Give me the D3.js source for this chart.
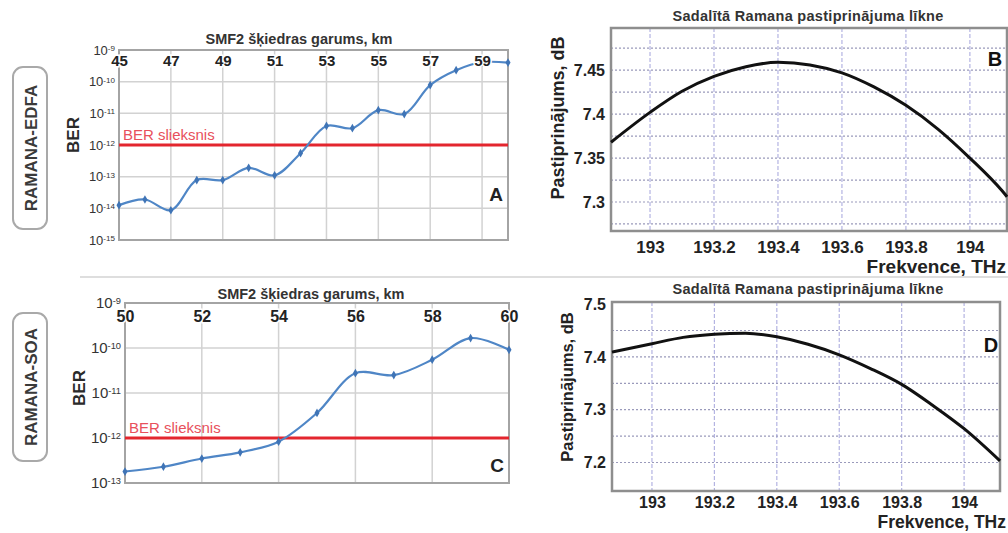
<!DOCTYPE html>
<html>
<head>
<meta charset="utf-8">
<script src="https://cdn.jsdelivr.net/npm/d3@7"></script>
<style>
  body { margin: 0; background: #fff; }
  svg { display: block; font-family: "Liberation Sans", Arial, sans-serif; }
</style>
</head>
<body>
<div id="chart"></div>
<script>
// --- data ---
const kmEdfa = [45, 46, 47, 48, 49, 50, 51, 52, 53, 54, 55, 56, 57, 58, 59, 60];
const berEdfa = [1.26e-14, 1.9e-14, 8.7e-15, 7.8e-14, 7.8e-14, 1.9e-13, 1.1e-13, 5.5e-13,
                 4.0e-12, 3.4e-12, 1.26e-11, 9.5e-12, 7.8e-11, 2.3e-10, 4.1e-10, 4.0e-10];
const kmSoa = [50, 51, 52, 53, 54, 55, 56, 57, 58, 59, 60];
const berSoa = [1.8e-13, 2.3e-13, 3.5e-13, 4.8e-13, 8.3e-13, 3.6e-12, 2.75e-11, 2.5e-11,
                5.5e-11, 1.66e-10, 9.1e-11];
const berThreshold = 1e-12;

const kmTicksEdfa = [45, 47, 49, 51, 53, 55, 57, 59];
const kmTicksSoa = [50, 52, 54, 56, 58, 60];
const berTicksEdfa = [1e-15, 1e-14, 1e-13, 1e-12, 1e-11, 1e-10, 1e-9];
const berTicksSoa = [1e-13, 1e-12, 1e-11, 1e-10, 1e-9];

const freqEdfa = [192.878, 193, 193.1, 193.2, 193.3, 193.4, 193.5, 193.6, 193.7, 193.8, 193.9, 194, 194.1, 194.116];
const gainEdfa = [7.368, 7.402, 7.426, 7.443, 7.454, 7.459, 7.456, 7.447, 7.431, 7.410, 7.383, 7.350, 7.313, 7.306];
const freqSoa = [192.872, 193, 193.1, 193.2, 193.3, 193.4, 193.5, 193.6, 193.7, 193.8, 193.9, 194, 194.115];
const gainSoa = [7.409, 7.425, 7.437, 7.443, 7.445, 7.438, 7.424, 7.404, 7.378, 7.348, 7.308, 7.264, 7.203];

const freqTicks = [193, 193.2, 193.4, 193.6, 193.8, 194];
const gainTicksB = [7.3, 7.35, 7.4, 7.45];
const gainGridB = [7.275, 7.3, 7.325, 7.35, 7.375, 7.4, 7.425, 7.45, 7.475];
const gainTicksD = [7.2, 7.3, 7.4, 7.5];
const gainGridD = [7.2, 7.25, 7.3, 7.35, 7.4, 7.45];

const width = 1008, height = 533;

const svg = d3.select("#chart").append("svg")
    .attr("width", width)
    .attr("height", height);

svg.append("rect").attr("width", width).attr("height", height).attr("fill", "#fff");

// separator between the two rows
svg.append("line")
    .attr("x1", 80).attr("x2", width)
    .attr("y1", 277).attr("y2", 277)
    .attr("stroke", "#dedede").attr("stroke-width", 2);

// side labels
const sideLabel = (text, cy, h) => {
    const g = svg.append("g");
    g.append("rect")
        .attr("x", 13).attr("y", cy - h / 2)
        .attr("width", 34).attr("height", h)
        .attr("rx", 10)
        .attr("fill", "#fff").attr("stroke", "#a9a9a9").attr("stroke-width", 2);
    g.append("text")
        .attr("transform", `translate(37,${cy}) rotate(-90)`)
        .attr("text-anchor", "middle")
        .attr("font-size", 17).attr("font-weight", "bold")
        .attr("fill", "#3a3a3a")
        .text(text);
};
sideLabel("RAMANA-EDFA", 148, 162);
sideLabel("RAMANA-SOA", 387, 148);

// BER vs fibre length panel
const drawBer = o => {
    const x = d3.scaleLinear().domain(o.kmDomain).range([o.left, o.right]);
    const y = d3.scaleLog().domain(o.berDomain).range([o.bottom, o.top]);
    const g = svg.append("g");

    // grid
    g.append("g").selectAll("line")
        .data(o.kmTicks.filter(d => d > o.kmDomain[0]))
        .join("line")
        .attr("x1", d => x(d)).attr("x2", d => x(d))
        .attr("y1", o.top).attr("y2", o.bottom)
        .attr("stroke", "#d2d2d2").attr("stroke-width", 1.5);
    g.append("g").selectAll("line")
        .data(o.berTicks.slice(1, -1))
        .join("line")
        .attr("x1", o.left).attr("x2", o.right)
        .attr("y1", d => y(d)).attr("y2", d => y(d))
        .attr("stroke", "#d2d2d2").attr("stroke-width", 1.5);

    // frame
    g.append("rect")
        .attr("x", o.left).attr("y", o.top)
        .attr("width", o.right - o.left).attr("height", o.bottom - o.top)
        .attr("fill", "none").attr("stroke", "#a4a4a4").attr("stroke-width", 2);

    // threshold
    g.append("line")
        .attr("x1", o.left).attr("x2", o.right)
        .attr("y1", y(berThreshold)).attr("y2", y(berThreshold))
        .attr("stroke", "#e3262e").attr("stroke-width", 3);
    g.append("text")
        .attr("x", o.left + 4).attr("y", y(berThreshold) - 5)
        .attr("font-size", 15).attr("fill", "#e8505c")
        .text("BER slieksnis");

    // series
    const pts = o.km.map((k, i) => [k, o.ber[i]]);
    g.append("path")
        .datum(pts)
        .attr("fill", "none")
        .attr("stroke", "#4f86c6").attr("stroke-width", 2.2)
        .attr("d", d3.line().x(d => x(d[0])).y(d => y(d[1])).curve(d3.curveCatmullRom.alpha(0.5)));
    g.append("g").selectAll("path")
        .data(pts)
        .join("path")
        .attr("transform", d => `translate(${x(d[0])},${y(d[1])})`)
        .attr("d", d3.symbol(d3.symbolDiamond, 22))
        .attr("fill", "#3f74b6");

    // top km axis, labels inside the frame
    const ax = g.append("g")
        .attr("transform", `translate(0,${o.top})`)
        .call(d3.axisBottom(x).tickValues(o.kmTicks).tickSize(0).tickPadding(o.kmPad).tickFormat(d3.format("d")));
    ax.select(".domain").remove();
    ax.selectAll("text")
        .attr("font-size", o.kmFont).attr("font-weight", "bold")
        .attr("font-family", "Liberation Sans, Arial, sans-serif")
        .attr("fill", "#222")
        .attr("stroke", "#fff").attr("stroke-width", 3).attr("paint-order", "stroke");

    // left BER axis with powers of ten
    const ay = g.append("g")
        .attr("transform", `translate(${o.left},0)`)
        .call(d3.axisLeft(y).tickValues(o.berTicks).tickSize(0).tickPadding(4).tickFormat(() => ""));
    ay.select(".domain").remove();
    ay.selectAll("text").each(function (d) {
        const t = d3.select(this)
            .attr("font-family", "Liberation Sans, Arial, sans-serif")
            .attr("font-size", o.berFont).attr("fill", "#333");
        t.append("tspan").text("10");
        t.append("tspan").attr("dy", "-0.45em").attr("font-size", o.berFont * 0.62)
            .text("-" + Math.round(-Math.log10(d)));
    });

    // labels
    g.append("text")
        .attr("transform", `translate(${o.left - 40},${(o.top + o.bottom) / 2 + o.berLabelDy}) rotate(-90)`)
        .attr("text-anchor", "middle")
        .attr("font-size", 17).attr("font-weight", "bold").attr("fill", "#2a2a2a")
        .text("BER");
    g.append("text")
        .attr("x", o.titleX).attr("y", o.titleY)
        .attr("text-anchor", "middle")
        .attr("font-size", 14.5).attr("font-weight", "bold").attr("fill", "#333")
        .text("SMF2 šķiedras garums, km");
    g.append("text")
        .attr("x", o.right - 12).attr("y", o.letterY)
        .attr("text-anchor", "middle").attr("dy", "0.35em")
        .attr("font-size", 19).attr("font-weight", "bold").attr("fill", "#222")
        .text(o.letter);
};

// Raman gain curve panel
const drawGain = o => {
    const x = d3.scaleLinear().domain(o.freqDomain).range([o.left, o.right]);
    const y = d3.scaleLinear().domain(o.gainDomain).range([o.bottom, o.top]);
    const g = svg.append("g");

    g.append("g").selectAll("line")
        .data(freqTicks)
        .join("line")
        .attr("x1", d => x(d)).attr("x2", d => x(d))
        .attr("y1", o.top).attr("y2", o.bottom)
        .attr("stroke", "#b4b4e2").attr("stroke-width", 1.2)
        .attr("stroke-dasharray", "4,2");
    g.append("g").selectAll("line")
        .data(o.grid)
        .join("line")
        .attr("x1", o.left).attr("x2", o.right)
        .attr("y1", d => y(d)).attr("y2", d => y(d))
        .attr("stroke", "#9a9abb").attr("stroke-width", 1.2)
        .attr("stroke-dasharray", "2,2");

    g.append("rect")
        .attr("x", o.left).attr("y", o.top)
        .attr("width", o.right - o.left).attr("height", o.bottom - o.top)
        .attr("fill", "none").attr("stroke", "#8e8e8e").attr("stroke-width", 2.5);

    g.append("path")
        .datum(o.freq.map((f, i) => [f, o.gain[i]]))
        .attr("fill", "none")
        .attr("stroke", "#111").attr("stroke-width", 3)
        .attr("d", d3.line().x(d => x(d[0])).y(d => y(d[1])).curve(d3.curveMonotoneX));

    const ax = g.append("g")
        .attr("transform", `translate(0,${o.bottom})`)
        .call(d3.axisBottom(x).tickValues(freqTicks).tickSize(0).tickPadding(o.xPad).tickFormat(d => d3.format("")(+d.toFixed(1))));
    ax.select(".domain").remove();
    ax.selectAll("text")
        .attr("font-size", o.xTickFont).attr("font-weight", "bold")
        .attr("font-family", "Liberation Sans, Arial, sans-serif").attr("fill", "#222");

    const ay = g.append("g")
        .attr("transform", `translate(${o.left},0)`)
        .call(d3.axisLeft(y).tickValues(o.ticks).tickSize(0).tickPadding(6).tickFormat(d => +d.toFixed(2)));
    ay.select(".domain").remove();
    ay.selectAll("text")
        .attr("font-size", 16).attr("font-weight", "bold")
        .attr("font-family", "Liberation Sans, Arial, sans-serif").attr("fill", "#222");

    g.append("text")
        .attr("transform", `translate(${o.yLabelX},${o.yLabelY}) rotate(-90)`)
        .attr("text-anchor", "middle")
        .attr("font-size", o.yLabelFont).attr("font-weight", "bold").attr("fill", "#222")
        .text("Pastiprinājums, dB");
    g.append("text")
        .attr("x", 1006).attr("y", o.xLabelY)
        .attr("text-anchor", "end")
        .attr("font-size", o.xLabelFont).attr("font-weight", "bold").attr("fill", "#222")
        .text("Frekvence, THz");
    g.append("text")
        .attr("x", 808).attr("y", o.titleY)
        .attr("text-anchor", "middle")
        .attr("font-size", 14.5).attr("font-weight", "bold").attr("fill", "#333")
        .attr("letter-spacing", 0.3)
        .text("Sadalītā Ramana pastiprinājuma līkne");
    g.append("text")
        .attr("x", o.letterX).attr("y", o.letterY)
        .attr("text-anchor", "middle").attr("dy", "0.35em")
        .attr("font-size", 20).attr("font-weight", "bold").attr("fill", "#111")
        .text(o.letter);
};

drawBer({
    left: 119, right: 508, top: 50, bottom: 240,
    kmDomain: [45, 60], berDomain: [1e-15, 1e-9],
    km: kmEdfa, ber: berEdfa, kmTicks: kmTicksEdfa, berTicks: berTicksEdfa,
    kmFont: 15, kmPad: 5, berFont: 13, berLabelDy: -10,
    titleX: 299, titleY: 44, letter: "A", letterY: 194
});
drawBer({
    left: 125, right: 509, top: 303, bottom: 483,
    kmDomain: [50, 60], berDomain: [1e-13, 1e-9],
    km: kmSoa, ber: berSoa, kmTicks: kmTicksSoa, berTicks: berTicksSoa,
    kmFont: 16, kmPad: 8, berFont: 15, berLabelDy: -5,
    titleX: 311, titleY: 299, letter: "C", letterY: 465
});
drawGain({
    left: 611, right: 1007, top: 28, bottom: 231,
    freqDomain: [192.878, 194.116], gainDomain: [7.267, 7.498],
    freq: freqEdfa, gain: gainEdfa, ticks: gainTicksB, grid: gainGridB,
    xPad: 10, xTickFont: 17, xLabelY: 273, xLabelFont: 19, titleY: 21,
    yLabelX: 564, yLabelY: 118, yLabelFont: 18,
    letter: "B", letterX: 995, letterY: 59
});
drawGain({
    left: 612, right: 1000, top: 302, bottom: 491,
    freqDomain: [192.872, 194.115], gainDomain: [7.146, 7.504],
    freq: freqSoa, gain: gainSoa, ticks: gainTicksD, grid: gainGridD,
    xPad: 6, xTickFont: 16, xLabelY: 528, xLabelFont: 17.5, titleY: 294,
    yLabelX: 573, yLabelY: 387, yLabelFont: 16.5,
    letter: "D", letterX: 991, letterY: 345
});
</script>
</body>
</html>
